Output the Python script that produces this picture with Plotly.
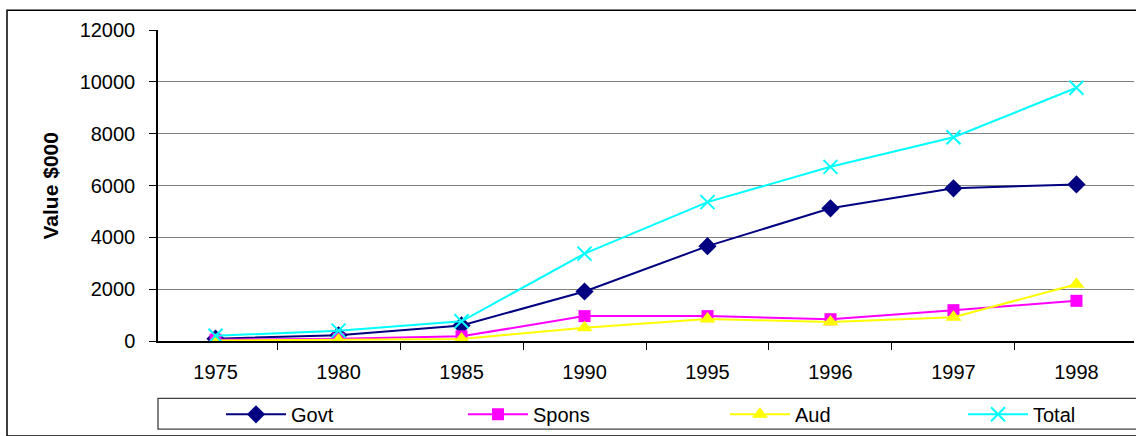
import plotly.graph_objects as go

years = ["1975", "1980", "1985", "1990", "1995", "1996", "1997", "1998"]
govt = [90, 220, 600, 1910, 3660, 5120, 5890, 6040]
spons = [50, 90, 180, 960, 960, 840, 1190, 1550]
aud = [20, 40, 80, 510, 850, 730, 920, 2190]
total = [200, 400, 760, 3370, 5360, 6720, 7860, 9770]
y_ticks = [0, 2000, 4000, 6000, 8000, 10000, 12000]

W, H = 1136, 436
L, R, T, B = 158, 2, 30, 92
pw, ph = W - L - R, H - T - B

def px_x(p):
    return (p - L) / pw

def px_y(p):
    return (H - B - p) / ph

font = "Liberation Sans, Arial, sans-serif"
fig = go.Figure()
series = [
    ("Govt", govt, "#000080", dict(symbol="diamond", size=14, color="#000080"), "legend", 255),
    ("Spons", spons, "#FF00FF", dict(symbol="square", size=12, color="#FF00FF"), "legend2", 497),
    ("Aud", aud, "#FFFF00", dict(symbol="triangle-up", size=14, color="#FFFF00"), "legend3", 759),
    ("Total", total, "#00FFFF", dict(symbol="x-thin", size=14, color="#00FFFF",
                                      line=dict(color="#00FFFF", width=2)), "legend4", 997),
]
legends = {}
for name, vals, col, mk, lg, mx in series:
    fig.add_trace(go.Scatter(x=years, y=vals, name=name, mode="lines+markers",
                             line=dict(color=col, width=2), marker=mk, legend=lg))
    legends[lg] = dict(orientation="h", x=px_x(mx - 34), xanchor="left", y=px_y(418),
                       yanchor="middle", font=dict(size=20), bgcolor="rgba(0,0,0,0)",
                       itemwidth=60)

fig.update_layout(
    width=W, height=H, margin=dict(l=L, r=R, t=T, b=B),
    paper_bgcolor="white", plot_bgcolor="white",
    font=dict(family=font, size=20, color="black"),
    showlegend=True,
    xaxis=dict(type="category", showgrid=False, showline=True, linecolor="black", linewidth=1.5,
               ticks="outside", ticklen=7, tickcolor="black", tickson="boundaries",
               tickfont=dict(size=20), ticklabelstandoff=12, zeroline=False),
    yaxis=dict(range=[0, 12000], tickvals=y_ticks, tickformat="d",
               showgrid=True, gridcolor="#808080", gridwidth=1.3,
               showline=True, linecolor="black", linewidth=1.5,
               ticks="outside", ticklen=7, tickcolor="black", tickfont=dict(size=20),
               ticklabelstandoff=10, zeroline=False, automargin=False),
    annotations=[dict(text="<b>Value $000</b>", textangle=-90, xref="paper", yref="paper",
                      x=px_x(50), y=px_y(188), xanchor="center", yanchor="middle", showarrow=False,
                      font=dict(size=21, family=font))],
    shapes=[
        dict(type="rect", xref="paper", yref="paper", x0=px_x(7), y0=px_y(440), x1=px_x(1140),
             y1=px_y(10), line=dict(color="black", width=1.5)),
        dict(type="rect", xref="paper", yref="paper", x0=px_x(158), y0=px_y(433), x1=px_x(1140),
             y1=px_y(402), line=dict(color="#404040", width=1.3)),
    ],
    **legends,
)
fig.write_html("out.html")
